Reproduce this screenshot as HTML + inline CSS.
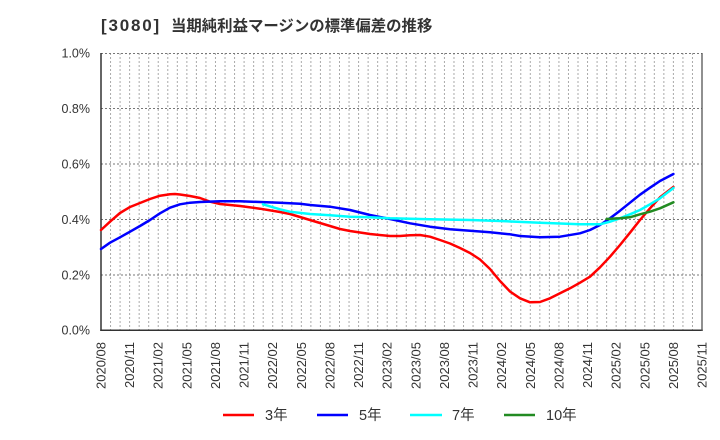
<!DOCTYPE html>
<html>
<head>
<meta charset="utf-8">
<style>
  html, body { margin: 0; padding: 0; background: #fff; }
  body { width: 720px; height: 440px; overflow: hidden; }
  svg { display: block; }
</style>
</head>
<body>
<svg width="720" height="440" viewBox="0 0 720 440" xmlns="http://www.w3.org/2000/svg">
  <rect x="0" y="0" width="720" height="440" fill="#ffffff"/>

  <text x="101" y="31" font-family="'Liberation Sans', 'Noto Sans CJK JP', sans-serif" font-size="17" font-weight="bold" fill="#333"><tspan letter-spacing="1.8">[3080]</tspan><tspan x="171" font-size="15.4">当期純利益マージンの標準偏差の推移</tspan></text>

  <g stroke="#aaaaaa" stroke-width="1" stroke-dasharray="2,2">
    <line x1="110.54" y1="53" x2="110.54" y2="330"/>
    <line x1="120.08" y1="53" x2="120.08" y2="330"/>
    <line x1="129.62" y1="53" x2="129.62" y2="330"/>
    <line x1="139.16" y1="53" x2="139.16" y2="330"/>
    <line x1="148.70" y1="53" x2="148.70" y2="330"/>
    <line x1="158.24" y1="53" x2="158.24" y2="330"/>
    <line x1="167.78" y1="53" x2="167.78" y2="330"/>
    <line x1="177.32" y1="53" x2="177.32" y2="330"/>
    <line x1="186.86" y1="53" x2="186.86" y2="330"/>
    <line x1="196.40" y1="53" x2="196.40" y2="330"/>
    <line x1="205.94" y1="53" x2="205.94" y2="330"/>
    <line x1="215.48" y1="53" x2="215.48" y2="330"/>
    <line x1="225.02" y1="53" x2="225.02" y2="330"/>
    <line x1="234.56" y1="53" x2="234.56" y2="330"/>
    <line x1="244.10" y1="53" x2="244.10" y2="330"/>
    <line x1="253.64" y1="53" x2="253.64" y2="330"/>
    <line x1="263.18" y1="53" x2="263.18" y2="330"/>
    <line x1="272.72" y1="53" x2="272.72" y2="330"/>
    <line x1="282.26" y1="53" x2="282.26" y2="330"/>
    <line x1="291.80" y1="53" x2="291.80" y2="330"/>
    <line x1="301.34" y1="53" x2="301.34" y2="330"/>
    <line x1="310.88" y1="53" x2="310.88" y2="330"/>
    <line x1="320.42" y1="53" x2="320.42" y2="330"/>
    <line x1="329.96" y1="53" x2="329.96" y2="330"/>
    <line x1="339.50" y1="53" x2="339.50" y2="330"/>
    <line x1="349.04" y1="53" x2="349.04" y2="330"/>
    <line x1="358.58" y1="53" x2="358.58" y2="330"/>
    <line x1="368.12" y1="53" x2="368.12" y2="330"/>
    <line x1="377.66" y1="53" x2="377.66" y2="330"/>
    <line x1="387.20" y1="53" x2="387.20" y2="330"/>
    <line x1="396.74" y1="53" x2="396.74" y2="330"/>
    <line x1="406.28" y1="53" x2="406.28" y2="330"/>
    <line x1="415.82" y1="53" x2="415.82" y2="330"/>
    <line x1="425.36" y1="53" x2="425.36" y2="330"/>
    <line x1="434.90" y1="53" x2="434.90" y2="330"/>
    <line x1="444.44" y1="53" x2="444.44" y2="330"/>
    <line x1="453.98" y1="53" x2="453.98" y2="330"/>
    <line x1="463.52" y1="53" x2="463.52" y2="330"/>
    <line x1="473.06" y1="53" x2="473.06" y2="330"/>
    <line x1="482.60" y1="53" x2="482.60" y2="330"/>
    <line x1="492.14" y1="53" x2="492.14" y2="330"/>
    <line x1="501.68" y1="53" x2="501.68" y2="330"/>
    <line x1="511.22" y1="53" x2="511.22" y2="330"/>
    <line x1="520.76" y1="53" x2="520.76" y2="330"/>
    <line x1="530.30" y1="53" x2="530.30" y2="330"/>
    <line x1="539.84" y1="53" x2="539.84" y2="330"/>
    <line x1="549.38" y1="53" x2="549.38" y2="330"/>
    <line x1="558.92" y1="53" x2="558.92" y2="330"/>
    <line x1="568.46" y1="53" x2="568.46" y2="330"/>
    <line x1="578.00" y1="53" x2="578.00" y2="330"/>
    <line x1="587.54" y1="53" x2="587.54" y2="330"/>
    <line x1="597.08" y1="53" x2="597.08" y2="330"/>
    <line x1="606.62" y1="53" x2="606.62" y2="330"/>
    <line x1="616.16" y1="53" x2="616.16" y2="330"/>
    <line x1="625.70" y1="53" x2="625.70" y2="330"/>
    <line x1="635.24" y1="53" x2="635.24" y2="330"/>
    <line x1="644.78" y1="53" x2="644.78" y2="330"/>
    <line x1="654.32" y1="53" x2="654.32" y2="330"/>
    <line x1="663.86" y1="53" x2="663.86" y2="330"/>
    <line x1="673.40" y1="53" x2="673.40" y2="330"/>
    <line x1="682.94" y1="53" x2="682.94" y2="330"/>
    <line x1="692.48" y1="53" x2="692.48" y2="330"/>
  </g>

  <g stroke="#777777" stroke-width="1" stroke-dasharray="2,2">
    <line x1="101" y1="53.5" x2="702" y2="53.5"/>
    <line x1="101" y1="108.5" x2="702" y2="108.5"/>
    <line x1="101" y1="164" x2="702" y2="164"/>
    <line x1="101" y1="219.5" x2="702" y2="219.5"/>
    <line x1="101" y1="275" x2="702" y2="275"/>
  </g>

  <line x1="101" y1="53" x2="101" y2="331" stroke="#333" stroke-width="1.5"/>
  <line x1="100.25" y1="330.25" x2="702.75" y2="330.25" stroke="#333" stroke-width="1.5"/>
  <line x1="702" y1="53" x2="702" y2="331" stroke="#555" stroke-width="1.3"/>

  <g font-family="'Liberation Sans', sans-serif" font-size="12.5" fill="#333" text-anchor="end">
    <text x="90" y="57.5">1.0%</text>
    <text x="90" y="113">0.8%</text>
    <text x="90" y="168.5">0.6%</text>
    <text x="90" y="224">0.4%</text>
    <text x="90" y="279.5">0.2%</text>
    <text x="90" y="334.5">0.0%</text>
  </g>

  <g font-family="'Liberation Sans', sans-serif" font-size="13" fill="#333" text-anchor="end">
    <text transform="translate(105.5,342) rotate(-90)">2020/08</text>
    <text transform="translate(134.1,342) rotate(-90)">2020/11</text>
    <text transform="translate(162.7,342) rotate(-90)">2021/02</text>
    <text transform="translate(191.4,342) rotate(-90)">2021/05</text>
    <text transform="translate(220.0,342) rotate(-90)">2021/08</text>
    <text transform="translate(248.6,342) rotate(-90)">2021/11</text>
    <text transform="translate(277.2,342) rotate(-90)">2022/02</text>
    <text transform="translate(305.8,342) rotate(-90)">2022/05</text>
    <text transform="translate(334.5,342) rotate(-90)">2022/08</text>
    <text transform="translate(363.1,342) rotate(-90)">2022/11</text>
    <text transform="translate(391.7,342) rotate(-90)">2023/02</text>
    <text transform="translate(420.4,342) rotate(-90)">2023/05</text>
    <text transform="translate(449.0,342) rotate(-90)">2023/08</text>
    <text transform="translate(477.6,342) rotate(-90)">2023/11</text>
    <text transform="translate(506.2,342) rotate(-90)">2024/02</text>
    <text transform="translate(534.8,342) rotate(-90)">2024/05</text>
    <text transform="translate(563.5,342) rotate(-90)">2024/08</text>
    <text transform="translate(592.1,342) rotate(-90)">2024/11</text>
    <text transform="translate(620.7,342) rotate(-90)">2025/02</text>
    <text transform="translate(649.3,342) rotate(-90)">2025/05</text>
    <text transform="translate(677.9,342) rotate(-90)">2025/08</text>
    <text transform="translate(706.5,342) rotate(-90)">2025/11</text>
  </g>

  <g fill="none" stroke-width="2.5" stroke-linejoin="round" stroke-linecap="round">
    <polyline stroke="#ff0000" points="101,230 110,221.7 120,213 130,207 140,203 150,199 160,195.7 170,194.3 175,194 180,194.5 190,196 200,198 210,201.7 220,204 240,206 260,208.7 280,212 290,214 300,217 320,223 340,229 350,231 370,234 390,236 400,236 410,235.3 420,235 430,236.7 440,240 450,243.5 460,248 470,253 480,259.5 490,269 500,281 510,291.5 520,298.3 530,302.3 540,302 550,298.3 560,293.3 570,288.3 580,282.7 590,276.7 600,267.3 610,256.7 620,245 630,232.7 640,220 650,208.3 660,197.3 673.4,187"/>
    <polyline stroke="#0000ff" points="101,249 110,242.7 120,237.3 130,231.7 140,226 150,220 160,213.3 170,207.7 180,204.3 190,202.7 200,202 220,201.3 240,201.3 260,202 280,202.7 300,203.7 310,205 330,206.7 350,210 370,215 390,219 410,223.3 430,226.7 450,229.3 470,230.7 490,232.3 510,234.3 520,236 540,237.3 560,236.7 580,233.3 590,230 600,225 610,218.3 620,210.7 630,202.7 640,194.7 650,187.7 660,181 673.4,174"/>
    <polyline stroke="#00ffff" points="263,204.3 280,209.3 290,211.7 310,214 330,215.3 350,216.7 370,217.3 390,218.3 430,219.3 470,220 500,221 540,222.7 580,224.3 600,224.3 610,221.7 620,218.3 630,214.3 640,210 650,204.3 660,198.3 673.4,188"/>
    <polyline stroke="#228b22" points="606.6,219 620,218.3 630,217.3 640,214.3 650,211.7 660,208.3 673.4,202.3"/>
  </g>

  <g stroke-width="2.5">
    <line x1="223" y1="415" x2="254" y2="415" stroke="#ff0000"/>
    <line x1="317" y1="415" x2="348" y2="415" stroke="#0000ff"/>
    <line x1="410" y1="415" x2="442" y2="415" stroke="#00ffff"/>
    <line x1="504" y1="415" x2="535" y2="415" stroke="#228b22"/>
  </g>
  <g font-family="'Liberation Sans', 'Noto Sans CJK JP', sans-serif" font-size="14.5" fill="#333">
    <text x="265" y="420">3年</text>
    <text x="359" y="420">5年</text>
    <text x="452" y="420">7年</text>
    <text x="546" y="420">10年</text>
  </g>
</svg>
</body>
</html>
